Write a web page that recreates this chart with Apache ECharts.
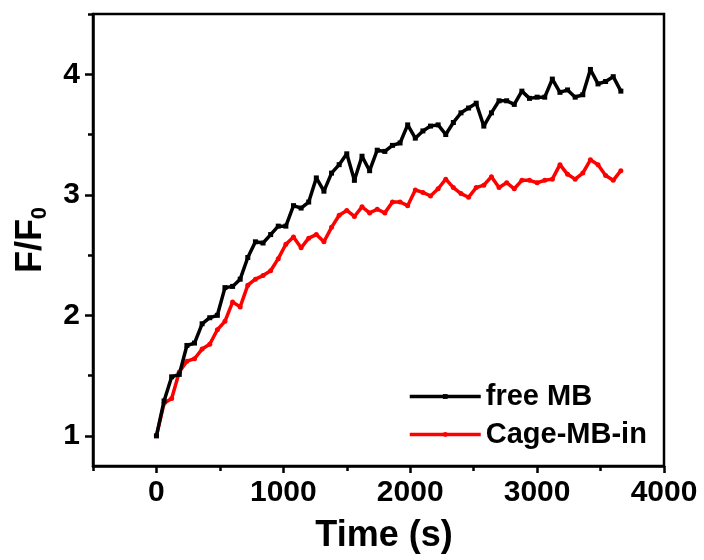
<!DOCTYPE html>
<html>
<head>
<meta charset="utf-8">
<script src="https://cdn.jsdelivr.net/npm/echarts@6/dist/echarts.min.js"></script>
<style>html,body{margin:0;padding:0;background:#fff}#c{width:704px;height:560px}</style>
</head>
<body>
<div id="c"></div>
<script>
// time (s)
const times = [0,60,120,180,240,300,360,420,480,540,600,660,720,780,840,900,960,1020,1080,1140,1200,1260,1320,1380,1440,1500,1560,1620,1680,1740,1800,1860,1920,1980,2040,2100,2160,2220,2280,2340,2400,2460,2520,2580,2640,2700,2760,2820,2880,2940,3000,3060,3120,3180,3240,3300,3360,3420,3480,3540,3600,3660];
const freeMB = [1.00,1.29,1.49,1.51,1.75,1.77,1.93,1.98,2.00,2.23,2.24,2.30,2.48,2.61,2.60,2.67,2.74,2.74,2.91,2.89,2.94,3.14,3.03,3.18,3.25,3.34,3.12,3.32,3.20,3.37,3.36,3.41,3.43,3.58,3.47,3.53,3.57,3.58,3.50,3.60,3.68,3.72,3.76,3.57,3.68,3.78,3.78,3.75,3.86,3.80,3.81,3.81,3.96,3.85,3.87,3.81,3.83,4.04,3.92,3.94,3.98,3.86];
const cageMBin = [1.00,1.27,1.31,1.53,1.62,1.64,1.72,1.76,1.88,1.95,2.11,2.07,2.25,2.30,2.33,2.37,2.47,2.59,2.65,2.56,2.64,2.67,2.61,2.73,2.83,2.87,2.82,2.90,2.85,2.88,2.85,2.94,2.94,2.91,3.04,3.02,2.99,3.05,3.13,3.06,3.01,2.98,3.06,3.08,3.15,3.06,3.10,3.05,3.12,3.12,3.10,3.12,3.13,3.25,3.17,3.13,3.18,3.29,3.25,3.16,3.12,3.20];
const seriesNames = ['free MB', 'Cage-MB-in'];
const xMajorTicks = [0,1000,2000,3000,4000];
const xMinorTicks = [-500,500,1500,2500,3500];
const yMajorTicks = [1,2,3,4];
const yMinorTicks = [1.5,2.5,3.5,4.5];

const FONT = '"Liberation Sans", Arial, sans-serif';
const pair = (xs, ys) => xs.map((x, i) => [x, ys[i]]);

const chart = echarts.init(document.getElementById('c'), null, {renderer: 'canvas'});
const axisLine = {show: true, onZero: false, lineStyle: {color: '#000', width: 2.5}};
const tickStyle = {color: '#000', width: 2.5};
chart.setOption({
  animation: false,
  backgroundColor: '#fff',
  grid: {left: 93, right: 40, top: 14, bottom: 94, show: true, borderColor: '#000', borderWidth: 2.5, backgroundColor: 'transparent'},
  legend: {
    orient: 'vertical', left: 408, top: 382, padding: 0, itemGap: 9, itemWidth: 71, itemHeight: 6,
    lineStyle: {width: 3.5},
    textStyle: {fontFamily: FONT, fontWeight: 'bold', fontSize: 29, color: '#000'},
    data: seriesNames
  },
  xAxis: [{
    type: 'value', min: -500, max: 4000, interval: 500,
    name: 'Time (s)', nameLocation: 'middle', nameGap: 52,
    nameTextStyle: {fontFamily: FONT, fontWeight: 'bold', fontSize: 36, color: '#000', padding: [0, 0, 0, 11]},
    axisLine: axisLine,
    axisTick: {show: true, inside: false, length: 7, lineStyle: tickStyle, customValues: xMajorTicks},
    axisLabel: {fontFamily: FONT, fontWeight: 'bold', fontSize: 30, color: '#000', margin: 12, customValues: xMajorTicks, formatter: v => String(v)},
    splitLine: {show: false}
  }, {
    type: 'value', min: -500, max: 4000, interval: 500, position: 'bottom', gridIndex: 0,
    axisLine: {show: false, onZero: false},
    axisTick: {show: true, inside: false, length: 5, lineStyle: tickStyle, customValues: xMinorTicks},
    axisLabel: {show: false},
    splitLine: {show: false}
  }],
  yAxis: [{
    type: 'value', min: 0.75, max: 4.5, interval: 0.25,
    name: '{a|F/F}{b|0}', nameLocation: 'middle', nameGap: 42, nameRotate: 90,
    nameTextStyle: {
      color: '#000',
      rich: {
        a: {fontFamily: FONT, fontWeight: 'bold', fontSize: 36, color: '#000', lineHeight: 40},
        b: {fontFamily: FONT, fontWeight: 'bold', fontSize: 22, color: '#000', verticalAlign: 'bottom', lineHeight: 40}
      }
    },
    axisLine: axisLine,
    axisTick: {show: true, inside: false, length: 8, lineStyle: tickStyle, customValues: yMajorTicks},
    axisLabel: {fontFamily: FONT, fontWeight: 'bold', fontSize: 30, color: '#000', margin: 13, customValues: yMajorTicks, formatter: v => String(v)},
    splitLine: {show: false}
  }, {
    type: 'value', min: 0.75, max: 4.5, interval: 0.25, position: 'left', gridIndex: 0,
    axisLine: {show: false, onZero: false},
    axisTick: {show: true, inside: false, length: 5, lineStyle: tickStyle, customValues: yMinorTicks},
    axisLabel: {show: false},
    splitLine: {show: false}
  }],
  series: [{
    name: seriesNames[0], type: 'line', xAxisIndex: 0, yAxisIndex: 0,
    data: pair(times, freeMB),
    symbol: 'rect', symbolSize: 5, showSymbol: true,
    lineStyle: {color: '#000', width: 3.5},
    itemStyle: {color: '#000'},
    z: 3
  }, {
    name: seriesNames[1], type: 'line', xAxisIndex: 0, yAxisIndex: 0,
    data: pair(times, cageMBin),
    symbol: 'circle', symbolSize: 5, showSymbol: true,
    lineStyle: {color: '#ff0000', width: 3.5},
    itemStyle: {color: '#ff0000'},
    z: 2
  }]
});
</script>
</body>
</html>
